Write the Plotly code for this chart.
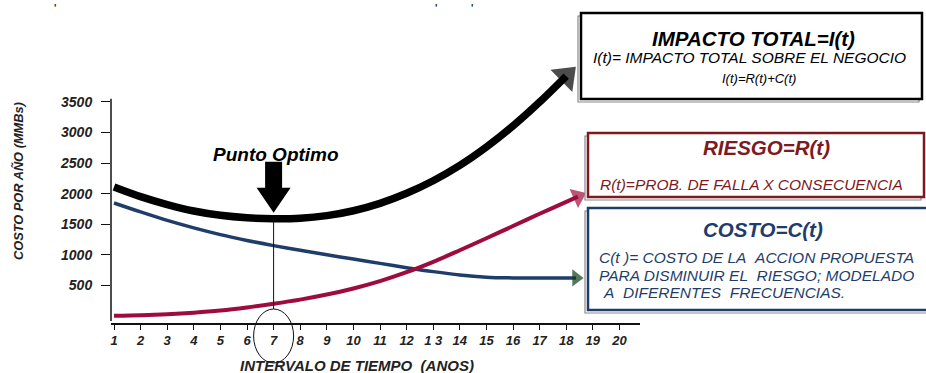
import plotly.graph_objects as go

# ---------------- data ----------------
t_impacto = [1, 2, 3, 4, 5, 6, 7, 8, 9, 10, 11, 12, 13, 14, 15, 16, 17, 18]
impacto = [2108, 1950, 1820, 1715, 1645, 1605, 1590, 1598, 1640, 1720, 1840,
           2005, 2210, 2460, 2760, 3105, 3495, 3920]

t_riesgo = [1, 2, 3, 4, 5, 6, 7, 8, 9, 10, 11, 12, 13, 14, 15, 16, 17, 18, 18.44]
riesgo = [5, 14, 30, 55, 90, 140, 200, 268, 350, 450, 570, 715, 885, 1075,
          1270, 1470, 1670, 1865, 1950]

t_costo = [1, 2, 3, 4, 5, 6, 7, 8, 9, 10, 11, 12, 13, 14, 15, 16, 17, 18, 18.37]
costo = [1846, 1700, 1562, 1440, 1330, 1235, 1150, 1073, 1000, 930, 860, 790,
         725, 670, 635, 622, 619, 621, 622]

x_ticks = list(range(1, 21))
x_ticktext = ["1", "2", "3", "4", "5", "6", "7", "8", "9", "10", "11", "12",
              "1 3", "14", "15", "16", "17", "18", "19", "20"]
y_ticks = [500, 1000, 1500, 2000, 2500, 3000, 3500]

# ---------------- layout geometry ----------------
W, H = 926, 373
L, R, TOP, BOT = 111, 640, 20, 323
XMIN, XMAX = 0.8872, 20.774
YMIN, YMAX = -114.4, 4836.6

FONT = "Liberation Sans, Arial, sans-serif"
BLACK = "#000000"
NAVY = "#1f3d6b"
CRIMSON = "#9e0c3c"
DARKRED = "#7e1a1e"
GREEN = "#0f3d14"


def fx(px):
    return (px - L) / (R - L)


def fy(py):
    return (BOT - py) / (BOT - TOP)


def data_x(t):
    return (t - XMIN) / (XMAX - XMIN)


def data_y(v):
    return (v - YMIN) / (YMAX - YMIN)


fig = go.Figure()


def add_curve(tx, vals, color, width, head_color, head_size):
    sizes = [0] * (len(vals) - 1) + [head_size]
    fig.add_trace(go.Scatter(
        x=tx, y=vals, mode="lines+markers",
        line=dict(color=color, width=width, shape="spline", smoothing=0.9),
        marker=dict(symbol="triangle-up", size=sizes, color=head_color,
                    angleref="previous", line=dict(width=0)),
        hoverinfo="skip", showlegend=False, cliponaxis=False,
    ))


add_curve(t_costo, costo, NAVY, 3.5, GREEN, 15)
add_curve(t_riesgo, riesgo, CRIMSON, 4, CRIMSON, 18)
add_curve(t_impacto, impacto, BLACK, 7.5, BLACK, 27)

# optimum
i_opt = min(range(len(impacto)), key=lambda i: impacto[i])
t_opt = t_impacto[i_opt]
v_opt = impacto[i_opt]
px_opt = data_x(t_opt)
py_opt = data_y(v_opt)

shapes = []
# y axis line (from 3500 down to the bottom)
shapes.append(dict(type="line", xref="paper", yref="paper", x0=0, x1=0,
                   y0=fy(321), y1=data_y(3550),
                   line=dict(color="#111", width=1.5)))
# vertical thin line at optimum
shapes.append(dict(type="line", xref="paper", yref="paper",
                   x0=px_opt, x1=px_opt, y0=py_opt, y1=fy(309),
                   line=dict(color="#111", width=1)))
# circle around label 7
shapes.append(dict(type="circle", xref="paper", yref="paper",
                   xsizemode="pixel", ysizemode="pixel",
                   xanchor=px_opt, yanchor=fy(336),
                   x0=-20, x1=20, y0=-27, y1=27,
                   line=dict(color="#111", width=1)))
# Punto Optimo arrow
shapes.append(dict(type="path", xref="paper", yref="paper",
                   xsizemode="pixel", ysizemode="pixel",
                   xanchor=px_opt, yanchor=py_opt,
                   path="M 0,6 L -17,31 L -8.5,31 L -8.5,57 L 8.5,57 L 8.5,31 L 17,31 Z",
                   fillcolor=BLACK, line=dict(width=0)))


def box(x0, y0, x1, y1, color):
    shapes.append(dict(type="rect", xref="paper", yref="paper",
                       x0=fx(x0 - 3), x1=fx(x1 - 3), y0=fy(y1 + 3), y1=fy(y0 + 3),
                       line=dict(color="#8a8a8a", width=1.2), fillcolor="white"))
    shapes.append(dict(type="rect", xref="paper", yref="paper",
                       x0=fx(x0), x1=fx(x1), y0=fy(y1), y1=fy(y0),
                       line=dict(color=color, width=2.5), fillcolor="white"))


box(581, 13, 922, 99, BLACK)
box(588, 133, 924, 197, DARKRED)
box(588, 208, 935, 310, NAVY)

ann = []


def text(px, py, s, size, color=BLACK, xanchor="center"):
    ann.append(dict(xref="paper", yref="paper", x=fx(px), y=fy(py), text=s,
                    showarrow=False, xanchor=xanchor, yanchor="middle",
                    font=dict(family=FONT, size=size, color=color)))


# box texts
text(753, 38, "<b><i>IMPACTO TOTAL=I(t)</i></b>", 20.5)
text(749, 58, "<i>I(t)= IMPACTO TOTAL SOBRE EL NEGOCIO</i>", 15.5)
text(759, 78, "<i>I(t)=R(t)+C(t)</i>", 13)

text(766, 147, "<b><i>RIESGO=R(t)</i></b>", 20.5, DARKRED)
text(598, 184, "<i>R(t)=PROB. DE FALLA X CONSECUENCIA</i>", 15.5, DARKRED, "left")

text(763, 230, "<b><i>COSTO=C(t)</i></b>", 20.5, NAVY)
text(597, 257, "<i>C(t )= COSTO DE LA\u00a0\u00a0ACCION PROPUESTA</i>", 15.5, NAVY, "left")
text(597, 275, "<i>PARA DISMINUIR EL\u00a0\u00a0RIESGO; MODELADO</i>", 15.5, NAVY, "left")
text(601, 292, "<i>A\u00a0\u00a0DIFERENTES\u00a0\u00a0FRECUENCIAS.</i>", 15.5, NAVY, "left")

# Punto Optimo label
text(276, 155, "<b><i>Punto Optimo</i></b>", 19)

# axis titles
text(357, 365, "<b><i>INTERVALO DE TIEMPO\u00a0\u00a0(ANOS)</i></b>", 15, "#222")
ann.append(dict(xref="paper", yref="paper", x=fx(18), y=fy(181),
                text="<b><i>COSTO POR AÑO (MMBs)</i></b>", textangle=-90,
                showarrow=False, xanchor="center", yanchor="middle",
                font=dict(family=FONT, size=12.8, color="#222")))

# stray marks at the top
for mx in (55, 436, 472):
    text(mx, 9, "<b>'</b>", 10, "#222")

fig.update_layout(
    width=W, height=H,
    margin=dict(l=L, r=W - R, t=TOP, b=H - BOT, pad=0),
    paper_bgcolor="white", plot_bgcolor="white",
    shapes=shapes, annotations=ann,
    xaxis=dict(range=[XMIN, XMAX], tickvals=x_ticks, ticktext=x_ticktext,
               showgrid=False, zeroline=False, showline=True,
               linecolor="#111", linewidth=1.5, ticks="outside", ticklen=5,
               tickwidth=1, tickcolor="#111",
               tickfont=dict(family=FONT, size=13, color="#222",
                             weight="bold", style="italic")),
    yaxis=dict(range=[YMIN, YMAX], tickvals=y_ticks,
               showgrid=False, zeroline=False, showline=False,
               ticks="outside", ticklen=9, tickwidth=1, tickcolor="#111",
               ticklabelstandoff=6,
               tickfont=dict(family=FONT, size=14, color="#222",
                             weight="bold", style="italic")),
    showlegend=False,
)

fig.write_html("out.html")
